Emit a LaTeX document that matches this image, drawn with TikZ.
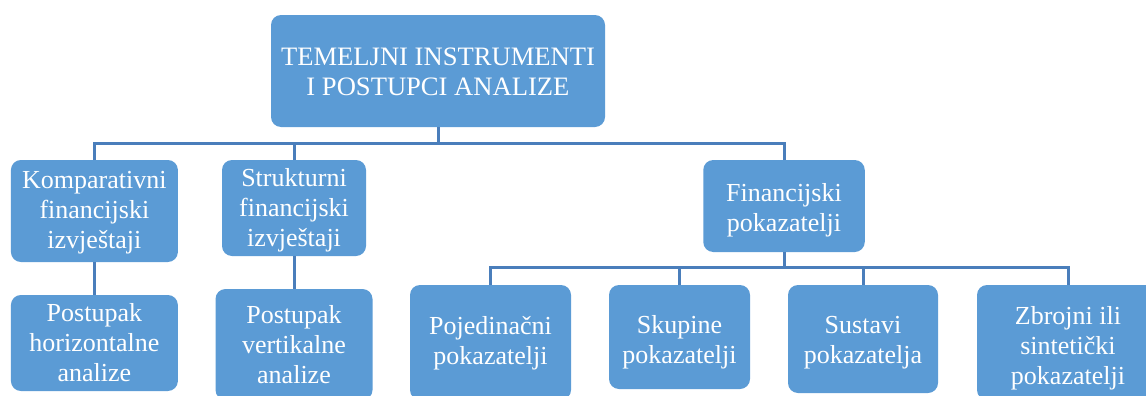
\documentclass[tikz,border=0pt]{standalone}
\usepackage{fontspec}
\setmainfont{Liberation Serif}
\definecolor{boxblue}{HTML}{5B9BD5}
\definecolor{lineblue}{HTML}{4A7EBB}
\begin{document}
\begin{tikzpicture}[x=0.5pt,y=-0.5pt,
  box/.style={fill=boxblue, rounded corners=5pt, inner sep=0pt, draw=none},
  txt/.style={text=white, align=center, inner sep=0pt, font=\fontsize{13}{15}\selectfont},
  conn/.style={draw=lineblue, line width=1.5pt}]
\useasboundingbox (0,0) rectangle (1146,396);
% boxes
\node[box, minimum width=167pt, minimum height=56pt] (root) at (438,71) {};
\node[box, minimum width=83.5pt, minimum height=51pt] (komp) at (94.4,211) {};
\node[box, minimum width=72pt, minimum height=48pt] (strk) at (294,208) {};
\node[box, minimum width=83.5pt, minimum height=48pt] (hor) at (94.4,343) {};
\node[box, minimum width=78.5pt, minimum height=55.5pt] (ver) at (294,344.5) {};
\node[box, minimum width=80.75pt, minimum height=46pt] (fin) at (784,206) {};
\node[box, minimum width=80.5pt, minimum height=57.5pt] (poj) at (490.5,342.5) {};
\node[box, minimum width=70.5pt, minimum height=52pt] (sku) at (679.5,337) {};
\node[box, minimum width=75pt, minimum height=54pt] (sus) at (863,339) {};
\node[box, minimum width=91pt, minimum height=57.5pt] (zbr) at (1068,342.5) {};
% texts
\node[txt, font=\fontsize{13.3}{15}\selectfont] (root-t) at (438,72) {TEMELJNI INSTRUMENTI\\I POSTUPCI ANALIZE};
\node[txt] (komp-t) at (94.4,213) {Komparativni\\financijski\\izvještaji};
\node[txt] (strk-t) at (294,210) {Strukturni\\financijski\\izvještaji};
\node[txt] (hor-t) at (94.4,343) {Postupak\\horizontalne\\analize};
\node[txt] (ver-t) at (294,345) {Postupak\\vertikalne\\analize};
\node[txt] (fin-t) at (784,210) {Financijski\\pokazatelji};
\node[txt] (poj-t) at (490.5,343) {Pojedinačni\\pokazatelji};
\node[txt] (sku-t) at (679.5,342) {Skupine\\pokazatelji};
\node[txt] (sus-t) at (863,343) {Sustavi\\pokazatelja};
\node[txt] (zbr-t) at (1068,348) {Zbrojni ili\\sintetički\\pokazatelji};
% connectors
\coordinate (bus1) at (0,143);
\coordinate (bus2) at (0,267);
\draw[conn] (root.south) -- (root.south |- bus1);
\draw[conn] (komp.north) |- (fin.north |- bus1) -- (fin.north);
\draw[conn] (strk.north) -- (strk.north |- bus1);
\draw[conn] (komp.south) -- (hor.north);
\draw[conn] (strk.south) -- (ver.north);
\draw[conn] (fin.south) -- (fin.south |- bus2);
\draw[conn] (poj.north) |- (zbr.north |- bus2) -- (zbr.north);
\draw[conn] (sku.north) -- (sku.north |- bus2);
\draw[conn] (sus.north) -- (sus.north |- bus2);
\end{tikzpicture}
\end{document}
